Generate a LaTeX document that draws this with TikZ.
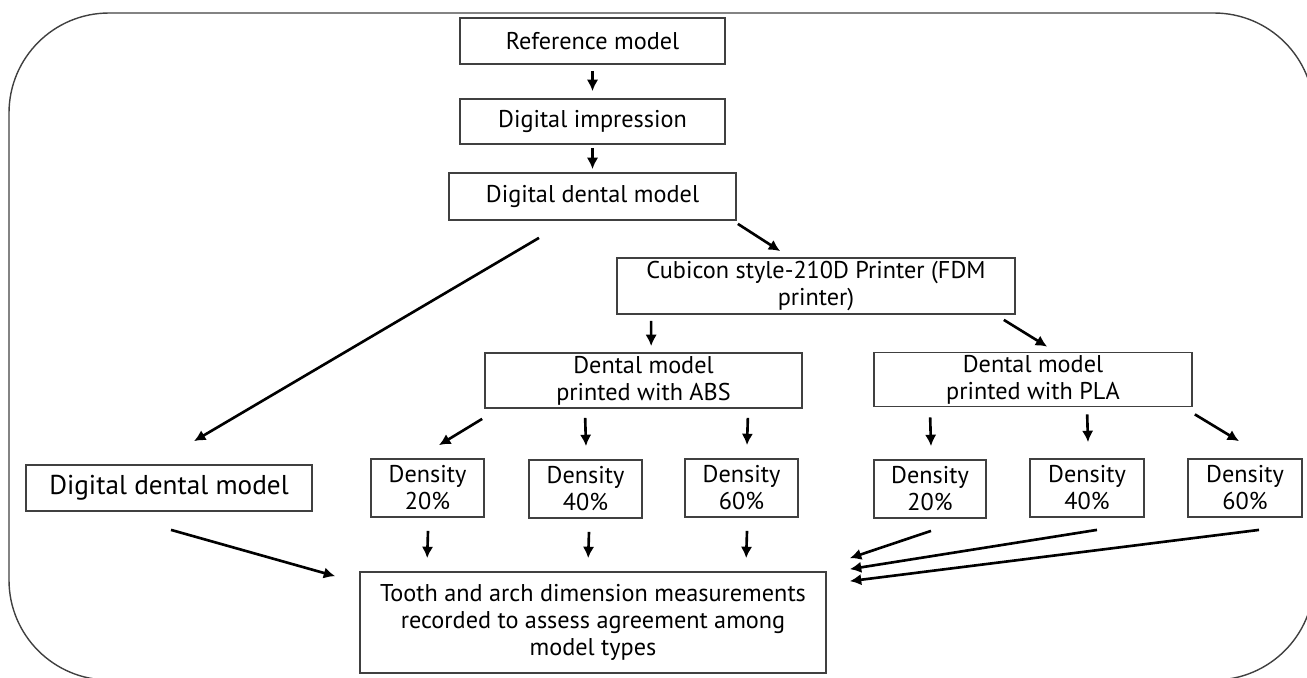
\documentclass[tikz,border=0pt]{standalone}
\usepackage{fontspec}
\setmainfont{PT Sans}
\usetikzlibrary{arrows.meta}
\definecolor{borda}{rgb}{0.25,0.25,0.25}
\tikzset{
  caixa/.style={draw=borda,line width=1pt,align=center,inner sep=0pt,font=\fontsize{13.8}{15.4}\selectfont},
  seta/.style={line width=1.5pt,-{Latex[length=6.5pt,width=6.5pt]}},
}

\begin{document}
\begin{tikzpicture}[x=0.02cm,y=-0.02cm]
      \useasboundingbox (0,0) rectangle (1307,677);
      \clip (0,0) rectangle (1307,677);
      \draw[borda,line width=0.8pt,rounded corners=2cm] (9,13) rectangle (1314,680);

      \node[caixa,minimum width=5.3cm,minimum height=0.92cm] (ref) at (592.5,41) {Reference model};
      \node[caixa,minimum width=5.3cm,minimum height=0.9cm] (imp) at (592.5,121.5) {Digital impression};
      \node[caixa,minimum width=5.74cm,minimum height=0.94cm] (ddm) at (592.5,196.5) {Digital dental model};
      \node[caixa,minimum width=7.96cm,minimum height=1.12cm] (cub) at (816,286) {Cubicon style-210D Printer (FDM\\printer)};
      \node[caixa,minimum width=6.34cm,minimum height=1.1cm] (abs) at (643.5,380.5) {Dental model\\printed with ABS};
      \node[caixa,minimum width=6.36cm,minimum height=1.08cm] (pla) at (1033,379.5) {Dental model\\printed with PLA};
      \node[caixa,minimum width=5.72cm,minimum height=0.92cm,font=\fontsize{15.5}{17}\selectfont] (ddmb) at (169,488) {Digital dental model};
      \node[caixa,minimum width=2.26cm,minimum height=1.16cm] (a20) at (427.5,488) {Density\\20\%};
      \node[caixa,minimum width=2.26cm,minimum height=1.16cm] (a40) at (585.5,489) {Density\\40\%};
      \node[caixa,minimum width=2.26cm,minimum height=1.16cm] (a60) at (741.5,488) {Density\\60\%};
      \node[caixa,minimum width=2.24cm,minimum height=1.16cm] (p20) at (930,489) {Density\\20\%};
      \node[caixa,minimum width=2.28cm,minimum height=1.16cm] (p40) at (1087,488) {Density\\40\%};
      \node[caixa,minimum width=2.28cm,minimum height=1.16cm] (p60) at (1245,488) {Density\\60\%};
      \node[caixa,minimum width=9.32cm,minimum height=2.02cm] (meas) at (593,622.5) {Tooth and arch dimension measurements\\recorded to assess agreement among\\model types};

      \draw[seta] ([shift={(0,6)}]ref.south) -- ([shift={(0,-7)}]imp.north);
      \draw[seta] ([shift={(0,3)}]imp.south) -- ([shift={(0,-3)}]ddm.north);
      \draw[seta] ([shift={(1,3)}]ddm.south east) -- ([shift={(164,-6)}]cub.north west);
      \draw[seta] ([shift={(-53.5,17)}]ddm.south) -- ([shift={(25,-23)}]ddmb.north);
      \draw[seta] ([shift={(35,6)}]cub.south west) -- ([shift={(167,-6)}]abs.north west);
      \draw[seta] ([shift={(-12,5)}]cub.south east) -- ([shift={(174,-5)}]pla.north west);
      \draw[seta] ([shift={(-2,10)}]abs.south west) -- ([shift={(11.5,-13)}]a20.north);
      \draw[seta] ([shift={(101,9)}]abs.south west) -- ([shift={(0.5,-13)}]a40.north);
      \draw[seta] ([shift={(-55,9)}]abs.south east) -- ([shift={(5.5,-13)}]a60.north);
      \draw[seta] ([shift={(57,10)}]pla.south west) -- ([shift={(1,-13)}]p20.north);
      \draw[seta] ([shift={(214,7)}]pla.south west) -- ([shift={(1,-16)}]p40.north);
      \draw[seta] ([shift={(2,7)}]pla.south east) -- ([shift={(-6,-17)}]p60.north);
      \draw[seta] ([shift={(2,18)}]ddmb.south) -- ([shift={(-24,5)}]meas.north west);
      \draw[seta] ([shift={(0.5,13)}]a20.south) -- ([shift={(68,-13)}]meas.north west);
      \draw[seta] ([shift={(3.5,13)}]a40.south) -- ([shift={(229,-13)}]meas.north west);
      \draw[seta] ([shift={(5.5,13)}]a60.south) -- ([shift={(387,-13)}]meas.north west);
      \draw[seta] ([shift={(1,12)}]p20.south) -- ([shift={(23,-13)}]meas.north east);
      \draw[seta] ([shift={(10,12)}]p40.south) -- ([shift={(23,-2)}]meas.north east);
      \draw[seta] ([shift={(14,12)}]p60.south) -- ([shift={(23,10)}]meas.north east);
\end{tikzpicture}
\end{document}
